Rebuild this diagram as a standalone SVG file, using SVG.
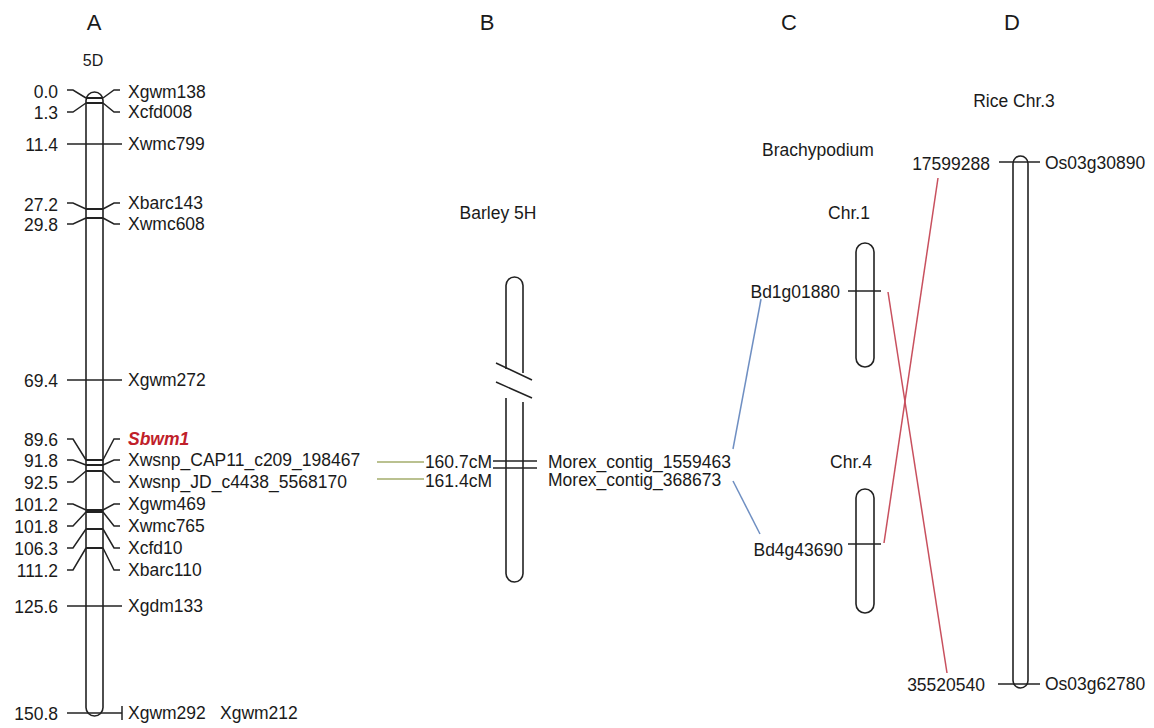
<svg xmlns="http://www.w3.org/2000/svg" width="1154" height="728" viewBox="0 0 1154 728">
<style>
text{font-family:"Liberation Sans",Arial,sans-serif;font-size:17.5px;fill:#1a1a1a}
.hdr{font-size:22px}
.sm{font-size:16px}
.r{text-anchor:end}
.m{text-anchor:middle}
.chr{fill:#fff;stroke:#222;stroke-width:1.6}
.tk{fill:none;stroke:#222;stroke-width:1.5}
.mk{stroke:#222;stroke-width:2}
.olive{stroke:#a3ad6b;stroke-width:1.5}
.blue{stroke:#6f8fc2;stroke-width:1.5}
.red{stroke:#c8505e;stroke-width:1.5}
.red-t{fill:#c0202a;font-weight:bold;font-style:italic}
</style>
<rect width="1154" height="728" fill="#fff"/>
<g id="headers">
<text class="hdr m" x="94" y="30">A</text>
<text class="sm m" x="93" y="66">5D</text>
<text class="hdr m" x="487" y="30">B</text>
<text class="hdr m" x="789" y="30">C</text>
<text class="hdr m" x="1012" y="30">D</text>
<text class="m" x="498" y="219">Barley 5H</text>
<text class="m" x="818" y="156">Brachypodium</text>
<text class="m" x="849" y="219">Chr.1</text>
<text class="m" x="851" y="468">Chr.4</text>
<text class="m" x="1014" y="107">Rice Chr.3</text>
</g>
<g id="connectors">
<line class="olive" x1="377" y1="462" x2="424" y2="462"/>
<line class="olive" x1="377" y1="479" x2="424" y2="479"/>
<line class="blue" x1="733" y1="449" x2="761" y2="299"/>
<line class="blue" x1="733" y1="481" x2="760" y2="534"/>
<line class="red" x1="888" y1="292" x2="947" y2="673"/>
<line class="red" x1="884" y1="543" x2="938" y2="178"/>
</g>
<g id="chrA">
<rect class="chr" x="86" y="92" width="17" height="624" rx="8.5"/>
<g id="chrA-markers">
<polyline class="tk" points="67,90 73,90 86,98"/><polyline class="tk" points="103,98 114,90 120,90"/><line class="mk" x1="86" y1="98" x2="103" y2="98"/>
<polyline class="tk" points="67,112 73,112 86,103"/><polyline class="tk" points="103,103 114,112 120,112"/><line class="mk" x1="86" y1="103" x2="103" y2="103"/>
<line class="tk" x1="67" y1="144" x2="122" y2="144"/>
<polyline class="tk" points="67,203 73,203 86,209"/><polyline class="tk" points="103,209 114,203 120,203"/><line class="mk" x1="86" y1="209" x2="103" y2="209" stroke-width="3"/>
<polyline class="tk" points="67,224 73,224 86,218"/><polyline class="tk" points="103,218 114,224 120,224"/><line class="mk" x1="86" y1="218" x2="103" y2="218"/>
<line class="tk" x1="67" y1="380" x2="122" y2="380"/>
<polyline class="tk" points="67,439 73,439 86,460"/><polyline class="tk" points="103,460 114,439 120,439"/><line class="mk" x1="86" y1="460" x2="103" y2="460"/>
<polyline class="tk" points="67,460 73,460 86,465"/><polyline class="tk" points="103,465 114,460 120,460"/><line class="mk" x1="86" y1="465" x2="103" y2="465"/>
<polyline class="tk" points="67,482 73,482 86,471"/><polyline class="tk" points="103,471 114,482 120,482"/><line class="mk" x1="86" y1="471" x2="103" y2="471"/>
<polyline class="tk" points="67,504 73,504 86,510"/><polyline class="tk" points="103,510 114,504 120,504"/><line class="mk" x1="86" y1="510" x2="103" y2="510"/>
<polyline class="tk" points="67,526 73,526 86,512"/><polyline class="tk" points="103,512 114,526 120,526"/><line class="mk" x1="86" y1="512" x2="103" y2="512"/>
<polyline class="tk" points="67,548 73,548 86,529"/><polyline class="tk" points="103,529 114,548 120,548"/><line class="mk" x1="86" y1="529" x2="103" y2="529"/>
<polyline class="tk" points="67,570 73,570 86,548"/><polyline class="tk" points="103,548 114,570 120,570"/><line class="mk" x1="86" y1="548" x2="103" y2="548" stroke-width="3"/>
<line class="tk" x1="67" y1="606" x2="122" y2="606"/>
<line class="tk" x1="67" y1="713" x2="122" y2="713"/><line class="tk" x1="122" y1="706" x2="122" y2="720"/>
</g>
<g id="chrA-labels">
<text class="r" x="58" y="98">0.0</text><text x="128" y="98">Xgwm138</text>
<text class="r" x="58" y="119">1.3</text><text x="128" y="118">Xcfd008</text>
<text class="r" x="58" y="151">11.4</text><text x="128" y="150">Xwmc799</text>
<text class="r" x="58" y="211">27.2</text><text x="128" y="209">Xbarc143</text>
<text class="r" x="58" y="231">29.8</text><text x="128" y="230">Xwmc608</text>
<text class="r" x="58" y="387">69.4</text><text x="128" y="386">Xgwm272</text>
<text class="r" x="58" y="446">89.6</text><text class="red-t" x="128" y="445">Sbwm1</text>
<text class="r" x="58" y="467">91.8</text><text x="128" y="466">Xwsnp_CAP11_c209_198467</text>
<text class="r" x="58" y="489">92.5</text><text x="128" y="488">Xwsnp_JD_c4438_5568170</text>
<text class="r" x="58" y="511">101.2</text><text x="128" y="510">Xgwm469</text>
<text class="r" x="58" y="533">101.8</text><text x="128" y="532">Xwmc765</text>
<text class="r" x="58" y="555">106.3</text><text x="128" y="554">Xcfd10</text>
<text class="r" x="58" y="577">111.2</text><text x="128" y="576">Xbarc110</text>
<text class="r" x="58" y="613">125.6</text><text x="128" y="612">Xgdm133</text>
<text class="r" x="58" y="720">150.8</text><text x="128" y="719">Xgwm292</text><text x="220" y="719">Xgwm212</text>
</g>
</g>
<g id="chrB">
<path class="chr" d="M506,369 V285.5 A8.5,8.5 0 0 1 523,285.5 V373" fill="none"/>
<path class="chr" d="M506,398 V573.5 A8.5,8.5 0 0 0 523,573.5 V402" fill="none"/>
<line class="tk" x1="496" y1="363" x2="532" y2="380"/>
<line class="tk" x1="496" y1="382" x2="532" y2="398"/>
<line class="tk" x1="493" y1="461" x2="537" y2="461"/>
<line class="tk" x1="493" y1="468" x2="537" y2="468"/>
<text class="r" x="492" y="468">160.7cM</text>
<text class="r" x="492" y="487">161.4cM</text>
<text x="548" y="468">Morex_contig_1559463</text>
<text x="548" y="486">Morex_contig_368673</text>
</g>
<g id="chrC1">
<rect class="chr" x="856" y="243" width="18" height="124" rx="9"/>
<line class="tk" x1="848" y1="291" x2="881" y2="291"/>
<text class="r" x="840" y="298">Bd1g01880</text>
</g>
<g id="chrC4">
<rect class="chr" x="856" y="489" width="18" height="124" rx="9"/>
<line class="tk" x1="848" y1="544" x2="881" y2="544"/>
<text class="r" x="843" y="556">Bd4g43690</text>
</g>
<g id="chrD">
<rect class="chr" x="1013" y="156" width="15" height="532" rx="7.5"/>
<line class="tk" x1="999" y1="162" x2="1040" y2="162"/>
<line class="tk" x1="998" y1="684" x2="1040" y2="684"/>
<text class="r" x="990" y="170">17599288</text>
<text x="1045" y="169">Os03g30890</text>
<text class="r" x="985" y="691">35520540</text>
<text x="1045" y="690">Os03g62780</text>
</g>
</svg>
